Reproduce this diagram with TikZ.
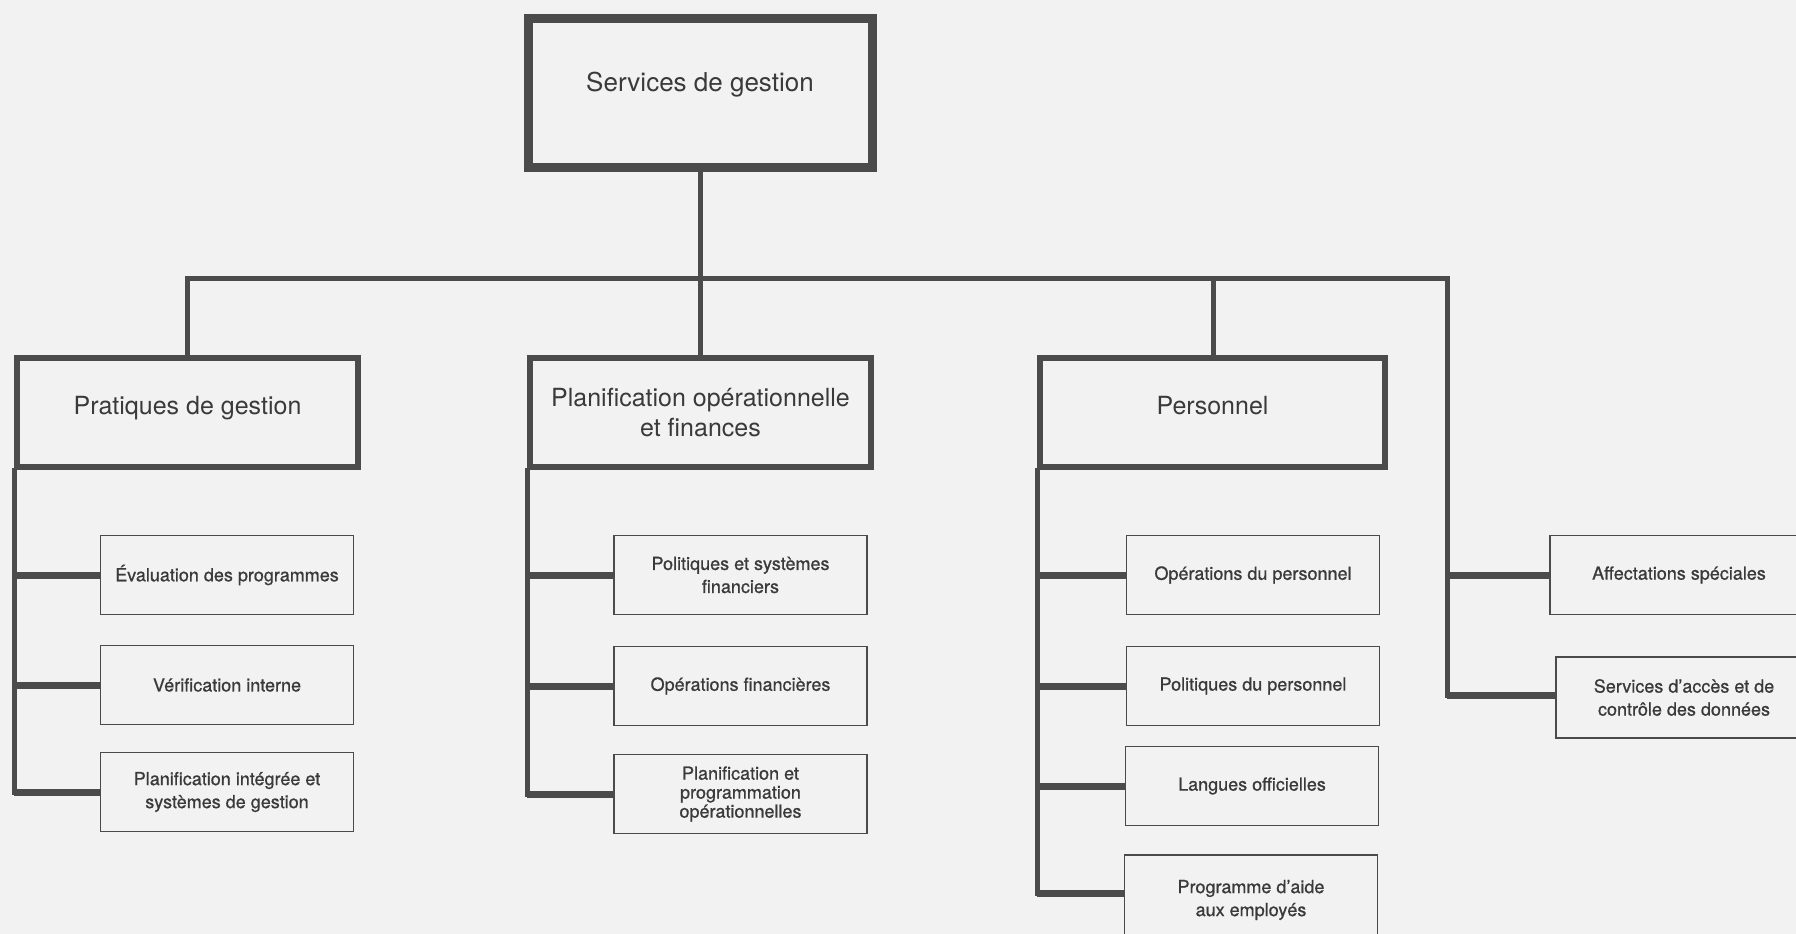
\documentclass[tikz,border=0pt]{standalone}
\usepackage{fontspec}
\setmainfont{TeX Gyre Heros}
\newfontfamily\unitfont{TeX Gyre Heros}[FakeBold=0.8]
\usepackage{tikz}
\usepackage{xcolor}
\definecolor{ink}{HTML}{4B4B4B}
\definecolor{inktext}{HTML}{3A3A3A}
\definecolor{paper}{HTML}{F2F2F2}

\begin{document}
\begin{tikzpicture}[x=1pt, y=-1pt,
	topbox/.style={draw=ink, line width=9pt, fill=paper, text=inktext, minimum width=344pt, minimum height=149pt, font=\fontsize{26}{30}\selectfont},
	headbox/.style={draw=ink, line width=6pt, fill=paper, text=inktext, minimum width=341pt, minimum height=109pt, align=center, font=\fontsize{25}{30}\selectfont},
	unitbox/.style={draw=ink, line width=1.6pt, fill=paper, text=inktext, minimum width=253pt, minimum height=79pt, align=center, font=\unitfont\fontsize{18}{23}\selectfont},
	bus/.style={draw=ink, line width=5pt},
	arm/.style={draw=ink, line width=7pt}]
	\fill[paper] (0,0) rectangle (1796,934);
	\useasboundingbox (0,0) rectangle (1796,934);
	\coordinate (busR) at (1447,278);
	\draw[bus] (700,93) -- (700,412);
	\draw[bus] (187,412) |- (busR);
	\draw[bus] (1213,278) -- (1213,412);
	\draw[bus, line cap=rect] (busR) -- (1447,695);
	\node[topbox] (top) at (700,93) {\raisebox{8pt}[\height][\depth]{Services de gestion}};
	\node[headbox] (prat) at (187.5,412.5) {\raisebox{4pt}[\height][\depth]{Pratiques de gestion}};
	\node[headbox] (planif) at (700.5,412.5) {Planification opérationnelle\\et finances};
	\node[headbox, minimum width=345pt] (pers) at (1212.5,412.5) {\raisebox{7pt}[\height][\depth]{Personnel}};
	\node[unitbox] (evalprog) at (227,575) {Évaluation des programmes};
	\node[unitbox] (verif) at (227,685) {Vérification interne};
	\node[unitbox] (planint) at (227,792) {Planification intégrée et\\systèmes de gestion};
	\node[unitbox] (polfin) at (740.5,575) {Politiques et systèmes\\financiers};
	\node[unitbox] (opfin) at (740.5,686) {Opérations financières};
	\node[unitbox, font=\unitfont\fontsize{18}{19}\selectfont] (planprog) at (740.5,794) {Planification et\\programmation\\opérationnelles};
	\node[unitbox] (oppers) at (1253,575) {Opérations du personnel};
	\node[unitbox] (polpers) at (1253,686) {Politiques du personnel};
	\node[unitbox] (langues) at (1252,786) {Langues officielles};
	\node[unitbox, minimum height=90pt] (aide) at (1251,900) {Programme d’aide\\aux employés};
	\node[unitbox, minimum width=258pt] (affect) at (1679,575) {Affectations spéciales};
	\node[unitbox, minimum width=256pt, minimum height=81pt] (servacc) at (1684,697.5) {Services d’accès et de\\contrôle des données};
	\draw[bus, line cap=rect] (prat.south west) -- (prat.south west |- planint.west);
	\draw[arm] (prat.south west |- evalprog.west) -- (evalprog.west);
	\draw[arm] (prat.south west |- verif.west) -- (verif.west);
	\draw[arm] (prat.south west |- planint.west) -- (planint.west);
	\draw[bus, line cap=rect] (planif.south west) -- (planif.south west |- planprog.west);
	\draw[arm] (planif.south west |- polfin.west) -- (polfin.west);
	\draw[arm] (planif.south west |- opfin.west) -- (opfin.west);
	\draw[arm] (planif.south west |- planprog.west) -- (planprog.west);
	\draw[bus, line cap=rect] (pers.south west) -- (pers.south west |- 0,893);
	\draw[arm] (pers.south west |- oppers.west) -- (oppers.west);
	\draw[arm] (pers.south west |- polpers.west) -- (polpers.west);
	\draw[arm] (pers.south west |- langues.west) -- (langues.west);
	\draw[arm] (pers.south west |- 0,893) -- (aide.west |- 0,893);
	\draw[arm] (busR |- affect.west) -- (affect.west);
	\draw[arm] (busR |- 0,695) -- (servacc.west |- 0,695);
\end{tikzpicture}
\end{document}
